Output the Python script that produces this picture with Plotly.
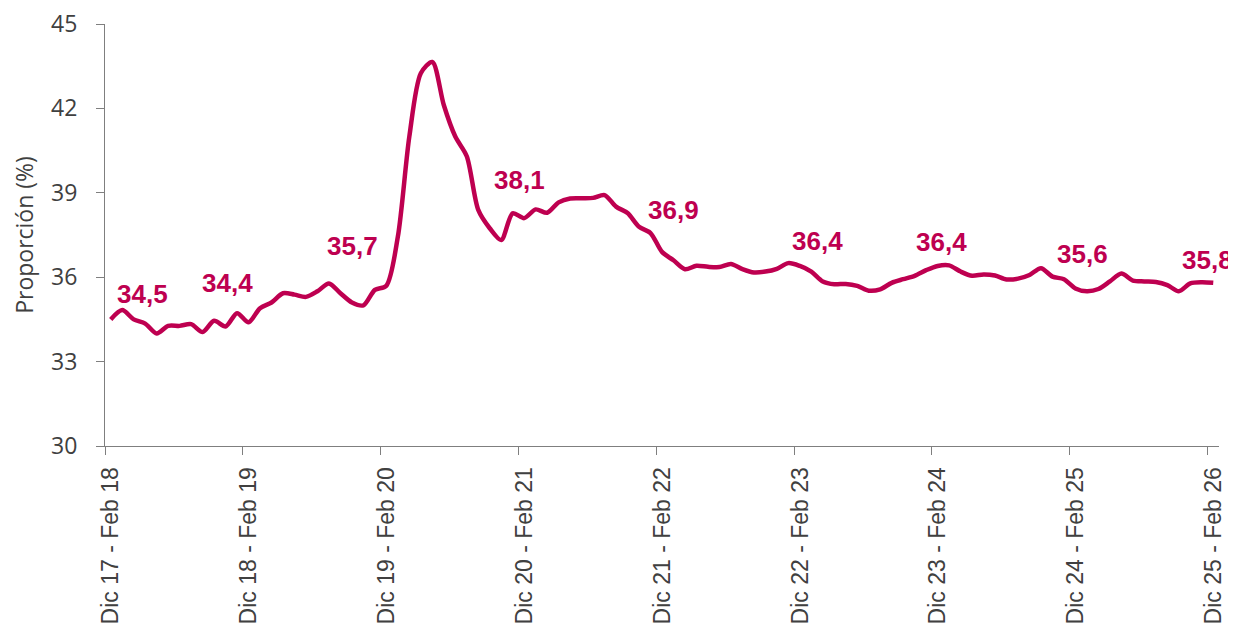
import plotly.graph_objects as go

# Rolling three-month periods, Dic 17 - Feb 18 ... Dic 25 - Feb 26 (97 periods)
values = [
    34.5, 34.83, 34.5, 34.35, 34.0, 34.27, 34.27, 34.33, 34.05, 34.45, 34.25, 34.72,
    34.4, 34.9, 35.1, 35.43, 35.38, 35.3, 35.5, 35.78, 35.43, 35.1, 35.0, 35.55,
    35.7, 37.44, 41.0, 43.25, 43.65, 42.12, 41.0, 40.3, 38.39, 37.74, 37.32, 38.27,
    38.1, 38.41, 38.29, 38.66, 38.8, 38.81, 38.82, 38.92, 38.51, 38.28, 37.79, 37.57,
    36.9, 36.6, 36.28, 36.41, 36.37, 36.36, 36.47, 36.29, 36.17, 36.2, 36.3, 36.5,
    36.4, 36.2, 35.85, 35.75, 35.76, 35.69, 35.52, 35.57, 35.8, 35.93, 36.05, 36.25,
    36.4, 36.42, 36.2, 36.05, 36.1, 36.06, 35.92, 35.95, 36.08, 36.32, 36.02, 35.93,
    35.6, 35.5, 35.58, 35.85, 36.13, 35.88, 35.85, 35.83, 35.72, 35.5, 35.78, 35.82,
    35.8,
]
periods = list(range(len(values)))

tick_index = [0, 12, 24, 36, 48, 60, 72, 84, 96]
tick_labels = [
    "Dic 17 - Feb 18", "Dic 18 - Feb 19", "Dic 19 - Feb 20", "Dic 20 - Feb 21",
    "Dic 21 - Feb 22", "Dic 22 - Feb 23", "Dic 23 - Feb 24", "Dic 24 - Feb 25",
    "Dic 25 - Feb 26",
]

# label placement offsets (pixels) for the highlighted December-February values
label_shift_x = [32, -21, -34, -5, 11, 18, 4, 7, -6]
label_shift_y = [25, 39, 40, 38, 42, 25, 24, 34, 23]

COLOR = "#BE0050"

fig = go.Figure()
fig.add_trace(go.Scatter(
    x=periods, y=values, mode="lines",
    line=dict(color=COLOR, width=4.5, shape="spline", smoothing=0.8),
    hoverinfo="skip", showlegend=False,
))

for idx, dx, dy in zip(tick_index, label_shift_x, label_shift_y):
    v = values[idx]
    fig.add_annotation(
        x=idx, y=v, text="<b>" + f"{v:.1f}".replace(".", ",") + "</b>",
        showarrow=False, xshift=dx, yshift=dy,
        font=dict(family="Liberation Sans, Arial", size=26, color=COLOR),
        xanchor="center", yanchor="middle",
    )

fig.update_layout(
    width=1228, height=615,
    margin=dict(l=97, r=17, t=16, b=177),
    paper_bgcolor="white", plot_bgcolor="white",
    showlegend=False,
    xaxis=dict(
        range=[-0.5, 96.5],
        automargin=False,
        tickmode="array",
        tickvals=[i - 0.5 for i in tick_index],
        ticktext=tick_labels,
        ticklabelshift=6,
        ticklabeloverflow="allow",
        tickangle=-90,
        ticks="outside", ticklen=8, tickcolor="#7f7f7f", tickwidth=1,
        showline=True, linecolor="#7f7f7f", linewidth=1,
        showgrid=False, zeroline=False,
        tickfont=dict(family="Liberation Sans, Arial", size=23, color="#404040"),
        ticklabelstandoff=3,
    ),
    yaxis=dict(
        range=[30, 45],
        automargin=False,
        tickmode="array",
        tickvals=[30, 33, 36, 39, 42, 45],
        ticklabeloverflow="allow",
        ticks="outside", ticklen=8, tickcolor="#7f7f7f", tickwidth=1,
        showline=True, linecolor="#7f7f7f", linewidth=1,
        showgrid=False, zeroline=False,
        tickfont=dict(family="Open Sans", size=23, color="#404040"),
        ticklabelstandoff=14,
        title=dict(text="Proporción (%)", font=dict(family="Open Sans", size=23, color="#404040"),
                   standoff=18),
    ),
)

fig.write_html("out.html")
